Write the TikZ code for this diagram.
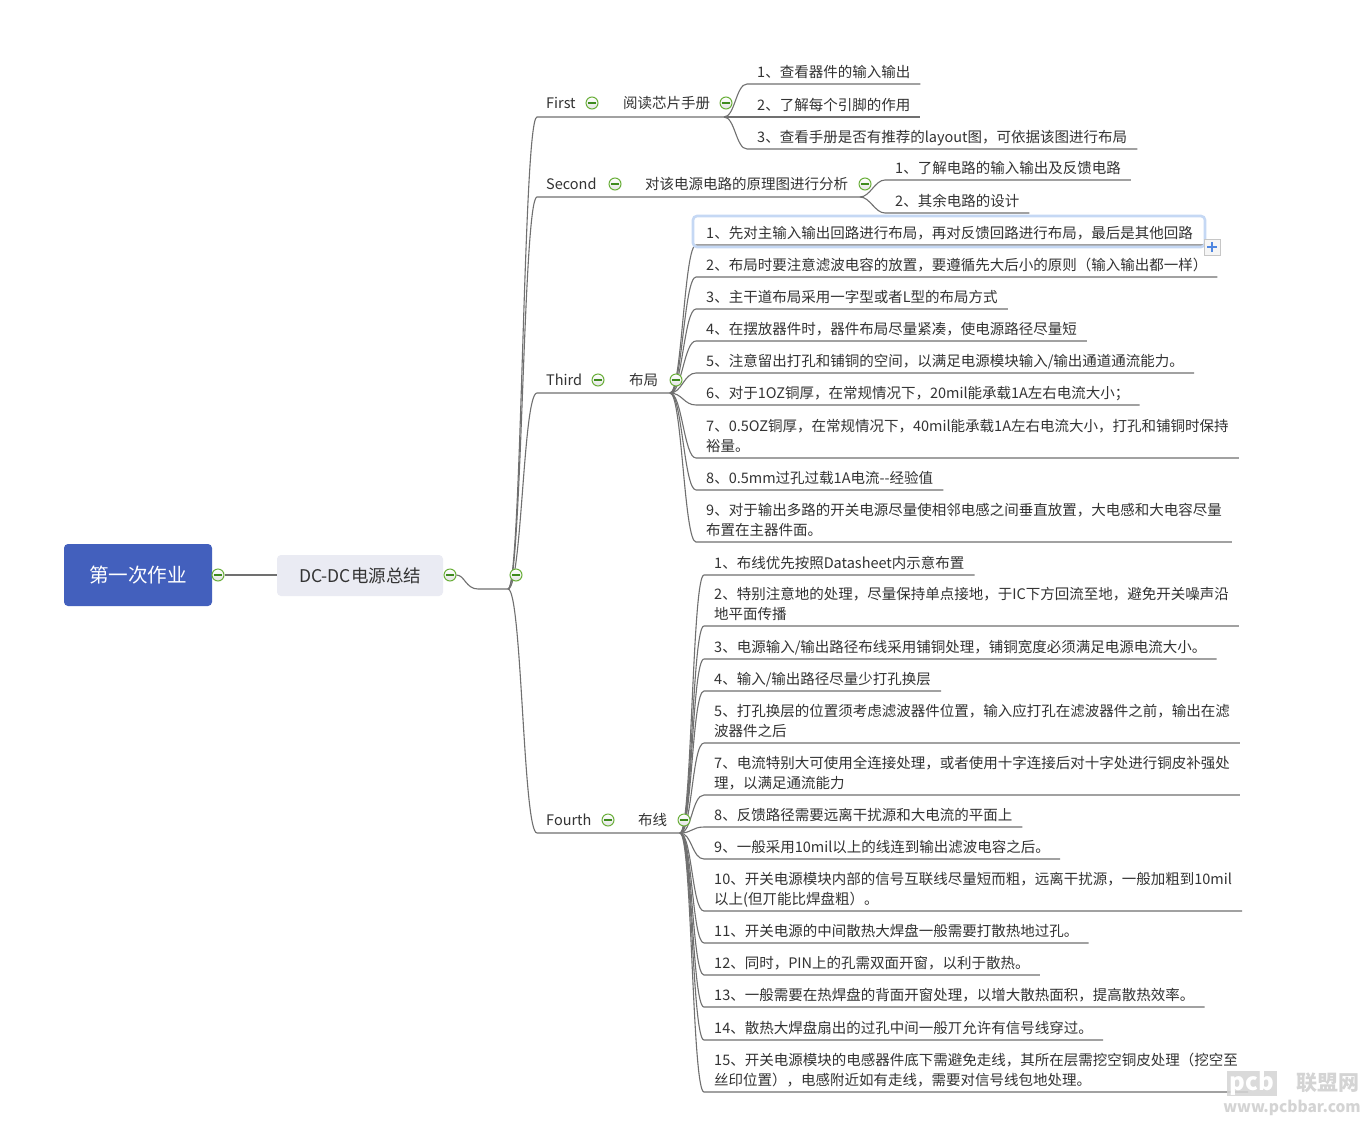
\documentclass[tikz,border=0pt]{standalone}
\usepackage{fontspec}
\setmainfont{Noto Sans CJK SC}
\definecolor{rootblue}{HTML}{4360BD}
\definecolor{dcfill}{HTML}{EAEBF3}
\definecolor{linegray}{HTML}{707070}
\definecolor{textgray}{HTML}{333333}
\definecolor{circgreen}{HTML}{6AAF3A}
\definecolor{minusgreen}{HTML}{3E8A1E}
\definecolor{selblue}{HTML}{C5D8F4}
\definecolor{plusblue}{HTML}{4F86E0}
\definecolor{wmgray}{HTML}{D4D4D4}
\newcommand\twoln[2]{\begin{tabular}[b]{@{}l@{}}#1\\#2\end{tabular}}
\newcommand\mleaf[6][12]{%
  \coordinate (#2s) at (#4,#5);
  \node[leaf] (#2) at (#4+10,#5-7) {#6};
  \draw[conn] (#3) .. controls +(#1,0) and +(-#1,0) .. (#2s) -- (#2.east |- #2s) -- ++(10,0);
}
\tikzset{
  conn/.style={draw=linegray, line width=1.1pt},
  leaf/.style={anchor=base west, inner sep=0pt, text=textgray,
    font=\fontsize{14.5}{19.5}\selectfont},
  lbl/.style={anchor=base west, inner sep=0pt, text=textgray,
    font=\fontsize{14.5}{19.5}\selectfont},
  tog/.style={circle, minimum size=12pt, inner sep=0pt, draw=circgreen, line width=1pt,
    top color=white, bottom color=gray!22,
    path picture={\draw[minusgreen, line width=1.3pt]
      ([xshift=-3.6pt]path picture bounding box.center) -- ([xshift=3.6pt]path picture bounding box.center);}},
}
\begin{document}
\begin{tikzpicture}[x=1pt, y=-1pt]
\useasboundingbox (0,0) rectangle (1372,1135);
\fill[white] (0,0) rectangle (1372,1135);

% root and central topic
\node[fill=rootblue, rounded corners=4pt, minimum width=148pt, minimum height=62pt,
  text=white, font=\fontsize{19.6}{22}\selectfont, inner sep=0pt] (root) at (138,575) {第一次作业};
\node[fill=dcfill, rounded corners=4pt, minimum width=166pt, minimum height=41pt,
  text=textgray, font=\fontsize{17.5}{20}\selectfont, inner sep=0pt] (dc) at (360,575.5) {DC-DC电源总结};
\node[tog] (c0) at (218,575) {};
\draw[conn] (c0) -- (dc.west |- c0);

% trunk
\node[tog] (c1) at (450,575) {};
\coordinate (j0) at (508,589);
\draw[conn] (c1.east) .. controls +(8,0) and +(-12,0) .. (478,589) -- (j0);

% branch lines
\coordinate (b1s) at (537,117);
\coordinate (j1) at (724,117);
\coordinate (b2s) at (537,197);
\coordinate (j2) at (860,197);
\coordinate (b3s) at (537,393);
\coordinate (j3) at (670,393);
\coordinate (b4s) at (537,833);
\coordinate (j4) at (680,833);
\draw[conn] (j0) .. controls +(14,0) and +(-14,0) .. (b1s) -- (j1);
\draw[conn] (j0) .. controls +(14,0) and +(-14,0) .. (b2s) -- (j2);
\draw[conn] (j0) .. controls +(14,0) and +(-14,0) .. (b3s) -- (j3);
\draw[conn] (j0) .. controls +(14,0) and +(-14,0) .. (b4s) -- (j4);

% branch labels
\node[lbl] (first) at (546,108.5) {First};
\node[lbl] (read) at (623,108.5) {阅读芯片手册};
\node[lbl] (second) at (546,189.5) {Second};
\node[lbl] (anal) at (645,189.5) {对该电源电路的原理图进行分析};
\node[lbl] (third) at (546,385.5) {Third};
\node[lbl] (layout) at (629,385.5) {布局};
\node[lbl] (fourth) at (546,825.5) {Fourth};
\node[lbl] (route) at (638,825.5) {布线};

% First leaves
\mleaf[11]{a1}{j1}{747}{84}{1、查看器件的输入输出}
\mleaf[11]{a2}{j1}{747}{117}{2、了解每个引脚的作用}
\mleaf[11]{a3}{j1}{747}{149}{3、查看手册是否有推荐的layout图，可依据该图进行布局}

% Second leaves
\mleaf[10]{s1}{j2}{885}{180}{1、了解电路的输入输出及反馈电路}
\mleaf[10]{s2}{j2}{885}{213}{2、其余电路的设计}

% Third leaves
\mleaf{t1}{j3}{696}{245}{1、先对主输入输出回路进行布局，再对反馈回路进行布局，最后是其他回路}
\mleaf{t2}{j3}{696}{277}{2、布局时要注意滤波电容的放置，要遵循先大后小的原则（输入输出都一样）}
\mleaf{t3}{j3}{696}{309}{3、主干道布局采用一字型或者L型的布局方式}
\mleaf{t4}{j3}{696}{341}{4、在摆放器件时，器件布局尽量紧凑，使电源路径尽量短}
\mleaf{t5}{j3}{696}{373}{5、注意留出打孔和铺铜的空间，以满足电源模块输入/输出通道通流能力。}
\mleaf{t6}{j3}{696}{405}{6、对于1OZ铜厚，在常规情况下，20mil能承载1A左右电流大小；}
\mleaf{t7}{j3}{696}{458}{\twoln{7、0.5OZ铜厚，在常规情况下，40mil能承载1A左右电流大小，打孔和铺铜时保持}{裕量。}}
\mleaf{t8}{j3}{696}{490}{8、0.5mm过孔过载1A电流-{}-经验值}
\mleaf{t9}{j3}{696}{542}{\twoln{9、对于输出多路的开关电源尽量使相邻电感之间垂直放置，大电感和大电容尽量}{布置在主器件面。}}

% Fourth leaves
\mleaf{f1}{j4}{704}{575}{1、布线优先按照Datasheet内示意布置}
\mleaf{f2}{j4}{704}{626}{\twoln{2、特别注意地的处理，尽量保持单点接地，于IC下方回流至地，避免开关噪声沿}{地平面传播}}
\mleaf{f3}{j4}{704}{659}{3、电源输入/输出路径布线采用铺铜处理，铺铜宽度必须满足电源电流大小。}
\mleaf{f4}{j4}{704}{691}{4、输入/输出路径尽量少打孔换层}
\mleaf{f5}{j4}{704}{743}{\twoln{5、打孔换层的位置须考虑滤波器件位置，输入应打孔在滤波器件之前，输出在滤}{波器件之后}}
\mleaf{f7}{j4}{704}{795}{\twoln{7、电流特别大可使用全连接处理，或者使用十字连接后对十字处进行铜皮补强处}{理，以满足通流能力}}
\mleaf{f8}{j4}{704}{827}{8、反馈路径需要远离干扰源和大电流的平面上}
\mleaf{f9}{j4}{704}{859}{9、一般采用10mil以上的线连到输出滤波电容之后。}
\mleaf{f10}{j4}{704}{911}{\twoln{10、开关电源模块内部的信号互联线尽量短而粗，远离干扰源，一般加粗到10mil}{以上(但丌能比焊盘粗）。}}
\mleaf{f11}{j4}{704}{943}{11、开关电源的中间散热大焊盘一般需要打散热地过孔。}
\mleaf{f12}{j4}{704}{975}{12、同时，PIN上的孔需双面开窗，以利于散热。}
\mleaf{f13}{j4}{704}{1007}{13、一般需要在热焊盘的背面开窗处理，以增大散热面积，提高散热效率。}
\mleaf{f14}{j4}{704}{1040}{14、散热大焊盘扇出的过孔中间一般丌允许有信号线穿过。}
\mleaf{f15}{j4}{704}{1092}{\twoln{15、开关电源模块的电感器件底下需避免走线，其所在层需挖空铜皮处理（挖空至}{丝印位置），电感附近如有走线，需要对信号线包地处理。}}

% selection frame on Third item 1
\draw[selblue, line width=2.6pt, rounded corners=4pt] (693,216) rectangle (1205,247);
\node[draw=gray!45, fill=gray!8, minimum size=16pt, inner sep=0pt, line width=0.8pt] (plusbox) at (1212,247) {};
\draw[plusblue, line width=2pt] ([xshift=-5pt]plusbox.center) -- ([xshift=5pt]plusbox.center)
  ([yshift=-5pt]plusbox.center) -- ([yshift=5pt]plusbox.center);

% collapse toggles
\node[tog] (ct) at (516,575) {};
\node[tog] (cfirst) at (592,103) {};
\node[tog] (cread) at (726,103) {};
\node[tog] (csecond) at (615,184) {};
\node[tog] (canal) at (865,184) {};
\node[tog] (cthird) at (598,380) {};
\node[tog] (clayout) at (676,380) {};
\node[tog] (cfourth) at (608,820) {};
\node[tog] (croute) at (684,820) {};

% watermark
\node[fill=wmgray, text=white, font=\fontsize{24}{24}\selectfont\bfseries, inner xsep=3pt, inner ysep=0pt,
  minimum height=25pt, opacity=0.85, text opacity=1] (wm1) at (1252,1083) {pcb};
\node[text=wmgray, font=\fontsize{21}{21}\selectfont\bfseries, inner sep=0pt] (wm2) at (1328,1083) {联盟网};
\node[text=wmgray, font=\fontsize{15.5}{16}\selectfont\bfseries, inner sep=0pt] (wm3) at (1292,1108) {www.pcbbar.com};
\end{tikzpicture}
\end{document}
